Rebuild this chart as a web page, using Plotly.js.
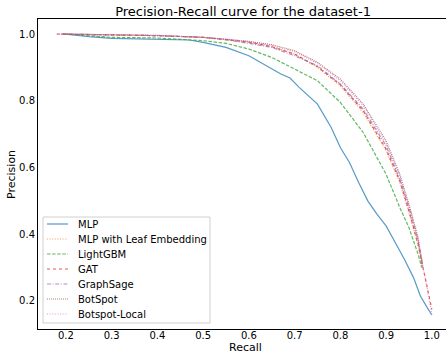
<!DOCTYPE html>
<html>
<head>
<meta charset="utf-8">
<script src="https://cdn.plot.ly/plotly-3.0.1.min.js"></script>
<style>html,body{margin:0;padding:0;overflow:hidden;background:#fff;}</style>
</head>
<body>
<div id="chart" style="width:446px;height:353px;"></div>
<script>
// MLP
const mlpRecall = [0.195,0.25,0.3,0.4,0.47,0.5,0.55,0.6,0.65,0.67,0.69,0.71,0.75,0.78,0.8,0.82,0.84,0.86,0.88,0.9,0.92,0.94,0.96,0.975,0.99,1.0];
const mlpPrecision = [1.0,0.992,0.987,0.984,0.982,0.975,0.96,0.935,0.895,0.88,0.868,0.84,0.79,0.72,0.66,0.615,0.555,0.5,0.46,0.425,0.375,0.325,0.27,0.215,0.18,0.158];
// MLP with Leaf Embedding
const leafRecall = [0.19,0.3,0.4,0.5,0.55,0.6,0.65,0.7,0.75,0.8,0.85,0.9,0.93,0.95,0.97,0.98];
const leafPrecision = [1.0,0.997,0.995,0.99,0.984,0.975,0.963,0.94,0.9,0.845,0.765,0.65,0.555,0.465,0.365,0.3];
// LightGBM
const lgbRecall = [0.2,0.3,0.4,0.5,0.55,0.6,0.65,0.7,0.75,0.8,0.85,0.9,0.93,0.95,0.97,0.978];
const lgbPrecision = [1.0,0.99,0.988,0.98,0.972,0.955,0.93,0.895,0.86,0.795,0.705,0.58,0.48,0.42,0.34,0.3];
// GAT
const gatRecall = [0.18,0.3,0.4,0.5,0.55,0.6,0.65,0.7,0.75,0.8,0.85,0.9,0.93,0.95,0.97,0.98,0.99,1.0];
const gatPrecision = [1.0,0.997,0.995,0.99,0.984,0.976,0.962,0.94,0.902,0.848,0.77,0.655,0.56,0.47,0.37,0.31,0.24,0.175];
// GraphSage
const sageRecall = [0.19,0.3,0.4,0.5,0.55,0.6,0.65,0.7,0.75,0.8,0.85,0.9,0.93,0.95,0.97,0.98];
const sagePrecision = [1.0,0.997,0.995,0.99,0.983,0.972,0.96,0.935,0.905,0.85,0.775,0.665,0.565,0.48,0.38,0.31];
// BotSpot
const botRecall = [0.19,0.3,0.4,0.5,0.55,0.6,0.65,0.7,0.75,0.8,0.85,0.9,0.93,0.95,0.97,0.98];
const botPrecision = [1.0,0.998,0.996,0.99,0.985,0.978,0.968,0.95,0.915,0.865,0.79,0.68,0.58,0.49,0.39,0.3];
// Botspot-Local
const localRecall = [0.18,0.3,0.4,0.5,0.55,0.6,0.65,0.7,0.75,0.8,0.85,0.9,0.93,0.95,0.97,0.98,0.99,1.0];
const localPrecision = [1.0,0.998,0.996,0.99,0.985,0.977,0.966,0.947,0.912,0.86,0.785,0.672,0.575,0.485,0.385,0.31,0.23,0.16];

const seriesNames = ['MLP','MLP with Leaf Embedding','LightGBM','GAT','GraphSage','BotSpot','Botspot-Local'];
const xTicks = [0.2,0.3,0.4,0.5,0.6,0.7,0.8,0.9,1.0];
const yTicks = [0.2,0.4,0.6,0.8,1.0];

const colors = ['#1f77b4','#ff7f0e','#2ca02c','#d62728','#9467bd','#8c564b','#e377c2'];
const dashes = ['solid','1px,1.6px','3.5px,1.6px','3px,3px','4px,1.6px,1px,1.6px','1px,1px','1px,1.6px'];
const xs = [mlpRecall, leafRecall, lgbRecall, gatRecall, sageRecall, botRecall, localRecall];
const ys = [mlpPrecision, leafPrecision, lgbPrecision, gatPrecision, sagePrecision, botPrecision, localPrecision];

const data = seriesNames.map((n, i) => ({
  x: xs[i], y: ys[i], name: n, type: 'scatter', mode: 'lines',
  line: {color: colors[i], width: 1.2, dash: dashes[i]}, opacity: 0.75, showlegend: false
}));

// plot area in pixels: left 38, right 446, top 19, bottom 329
const L = 38, R = 446, T = 19, B = 329;
const px = v => (v - L) / (R - L);
const py = v => (B - v) / (B - T);

const shapes = [{type: 'rect', xref: 'paper', yref: 'paper', x0: px(43), x1: px(210), y0: py(323), y1: py(217),
                 line: {color: '#d0d0d0', width: 1}, fillcolor: 'rgba(255,255,255,0.85)', layer: 'above'}];
const annotations = [];
seriesNames.forEach((n, i) => {
  const yy = 224 + 15 * i;
  shapes.push({type: 'line', xref: 'paper', yref: 'paper', x0: px(47), x1: px(68), y0: py(yy), y1: py(yy),
               line: {color: colors[i], width: 1.2, dash: dashes[i]}, opacity: 0.75, layer: 'above'});
  annotations.push({xref: 'paper', yref: 'paper', x: px(76), y: py(yy), text: n, showarrow: false,
                    xanchor: 'left', yanchor: 'middle', font: {family: 'DejaVu Sans', size: 10, color: '#000'}});
});
// axis titles placed explicitly
annotations.push({xref: 'paper', yref: 'paper', x: px(245), y: py(347), text: 'Recall', showarrow: false,
                  xanchor: 'center', yanchor: 'middle', font: {family: 'DejaVu Sans', size: 11, color: '#000'}});
annotations.push({xref: 'paper', yref: 'paper', x: px(12), y: py(175), text: 'Precision', showarrow: false,
                  textangle: -90, xanchor: 'center', yanchor: 'middle', font: {family: 'DejaVu Sans', size: 11, color: '#000'}});

const layout = {
  width: 446, height: 353,
  margin: {l: L, r: 0, t: T, b: 353 - B},
  paper_bgcolor: '#fff', plot_bgcolor: '#fff',
  font: {family: 'DejaVu Sans', size: 10, color: '#000'},
  title: {text: 'Precision-Recall curve for the dataset-1', font: {family: 'DejaVu Sans', size: 13, color: '#000'},
          x: 0.545, xanchor: 'center', y: 0.968, yanchor: 'middle'},
  xaxis: {range: [0.139, 1.031], tickvals: xTicks, ticktext: xTicks.map(v => v.toFixed(1)),
          showgrid: false, zeroline: false, showline: true, linecolor: '#000', linewidth: 1, mirror: true,
          ticks: '', automargin: false, ticklabelstandoff: -3},
  yaxis: {range: [0.116, 1.045], tickvals: yTicks, ticktext: yTicks.map(v => v.toFixed(1)),
          showgrid: false, zeroline: false, showline: true, linecolor: '#000', linewidth: 1,
          ticks: '', automargin: false},
  shapes: shapes,
  annotations: annotations,
  showlegend: false
};
Plotly.newPlot('chart', data, layout, {displayModeBar: false, staticPlot: true});
</script>
</body>
</html>
